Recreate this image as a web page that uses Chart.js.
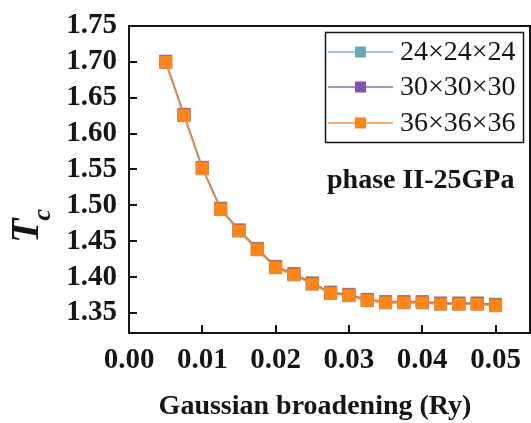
<!DOCTYPE html>
<html>
<head>
<meta charset="utf-8">
<script src="https://cdn.jsdelivr.net/npm/chart.js@4.4.1/dist/chart.umd.min.js"></script>
<style>
  html, body { margin: 0; padding: 0; background: #fff; }
  canvas { display: block; }
</style>
</head>
<body>
<canvas id="tcChart" width="531" height="423"></canvas>
<script>
// --- data ---
const broadening = [0.005, 0.0075, 0.01, 0.0125, 0.015, 0.0175, 0.02, 0.0225, 0.025, 0.0275,
                    0.03, 0.0325, 0.035, 0.0375, 0.04, 0.0425, 0.045, 0.0475, 0.05];
const tc24 = [1.701, 1.627, 1.553, 1.496, 1.466, 1.440, 1.415, 1.405, 1.392, 1.379,
              1.376, 1.369, 1.366, 1.366, 1.366, 1.364, 1.364, 1.364, 1.362];
const tc30 = [1.700, 1.626, 1.552, 1.495, 1.465, 1.439, 1.414, 1.404, 1.391, 1.378,
              1.375, 1.368, 1.365, 1.365, 1.365, 1.363, 1.363, 1.363, 1.361];
const tc36 = [1.699, 1.625, 1.551, 1.494, 1.464, 1.438, 1.413, 1.403, 1.390, 1.377,
              1.374, 1.367, 1.364, 1.364, 1.364, 1.362, 1.362, 1.362, 1.360];
const seriesLabels = ['24×24×24', '30×30×30', '36×36×36'];
const xTicks = [0.00, 0.01, 0.02, 0.03, 0.04, 0.05];
const yTicks = [1.35, 1.40, 1.45, 1.50, 1.55, 1.60, 1.65, 1.70, 1.75];

const SERIF = '"Liberation Serif", "Times New Roman", serif';
const INK = '#151515';

function pts(ys) {
  return broadening.map((x, i) => ({ x: x, y: ys[i] }));
}

function series(label, ys, line, fill, order) {
  return {
    label: label,
    data: pts(ys),
    borderColor: line,
    backgroundColor: fill,
    borderWidth: 1.6,
    pointStyle: 'rect',
    pointRadius: 9.2,
    pointBorderWidth: 0,
    pointBackgroundColor: fill,
    tension: 0,
    order: order
  };
}

// frame, inward ticks, axis titles, in-plot legend and annotation
const decorations = {
  id: 'decorations',
  afterDraw(chart) {
    const ctx = chart.ctx;
    const a = chart.chartArea;
    const xs = chart.scales.x, ys = chart.scales.y;
    ctx.save();

    // box
    ctx.strokeStyle = INK;
    ctx.lineWidth = 2;
    ctx.strokeRect(a.left, a.top, a.right - a.left, a.bottom - a.top);

    // inward tick marks
    ctx.beginPath();
    xTicks.forEach(v => {
      const px = Math.round(xs.getPixelForValue(v));
      if (px <= a.left + 1) return;
      ctx.moveTo(px, a.bottom);
      ctx.lineTo(px, a.bottom - 8);
    });
    yTicks.forEach(v => {
      const py = Math.round(ys.getPixelForValue(v));
      if (py <= a.top + 1) return;
      ctx.moveTo(a.left, py);
      ctx.lineTo(a.left + 8, py);
    });
    ctx.stroke();

    // x title
    ctx.fillStyle = INK;
    ctx.font = 'bold 28px ' + SERIF;
    ctx.textAlign = 'center';
    ctx.textBaseline = 'middle';
    ctx.fillText('Gaussian broadening (Ry)', 315, 407);

    // y title T_c
    ctx.save();
    ctx.translate(38, 243);
    ctx.rotate(-Math.PI / 2);
    ctx.textAlign = 'left';
    ctx.textBaseline = 'alphabetic';
    ctx.font = 'italic bold 40px ' + SERIF;
    ctx.fillText('T', 0, 0);
    const wT = ctx.measureText('T').width;
    ctx.font = 'italic bold 26px ' + SERIF;
    ctx.fillText('c', wT - 2, 12);
    ctx.restore();

    // legend box
    ctx.lineWidth = 1.5;
    ctx.strokeStyle = INK;
    ctx.strokeRect(325.5, 32.5, 198, 110);
    const rows = [52, 87, 123];
    chart.data.datasets.forEach((ds, i) => {
      const y = rows[i];
      ctx.strokeStyle = ds.borderColor;
      ctx.lineWidth = 1.6;
      ctx.beginPath();
      ctx.moveTo(328, y);
      ctx.lineTo(393, y);
      ctx.stroke();
      ctx.fillStyle = ds.backgroundColor;
      ctx.fillRect(355, y - 5.5, 11, 11);
      ctx.fillStyle = INK;
      ctx.font = '28px ' + SERIF;
      ctx.textAlign = 'left';
      ctx.textBaseline = 'middle';
      ctx.fillText(ds.label, 400, y + 1);
    });

    // annotation
    ctx.font = 'bold 28px ' + SERIF;
    ctx.textAlign = 'left';
    ctx.textBaseline = 'alphabetic';
    ctx.fillStyle = INK;
    ctx.fillText('phase II-25GPa', 327, 188);

    ctx.restore();
  }
};

document.addEventListener('DOMContentLoaded', function() {
  const ctx = document.getElementById('tcChart');
  new Chart(ctx.getContext('2d'), {
    type: 'line',
    data: {
      datasets: [
        series(seriesLabels[0], tc24, '#7fbac1', '#6aa9b1', 2),
        series(seriesLabels[1], tc30, '#8a68b8', '#7b55ae', 1),
        series(seriesLabels[2], tc36, '#f2913a', '#ff8516', 0)
      ]
    },
    options: {
      responsive: false,
      devicePixelRatio: 1,
      animation: false,
      layout: { autoPadding: false, padding: { top: 26, right: 1, left: 0, bottom: 0 } },
      plugins: { legend: { display: false }, tooltip: { enabled: false } },
      scales: {
        x: {
          type: 'linear',
          min: 0,
          max: 0.0547,
          grid: { display: false, drawTicks: false },
          border: { display: false },
          afterBuildTicks: s => { s.ticks = xTicks.map(v => ({ value: v })); },
          afterFit: s => { s.height = 90; s.paddingLeft = 0; s.paddingRight = 0; },
          ticks: {
            padding: 10,
            color: INK,
            font: { family: SERIF, size: 29, weight: 'bold' },
            maxRotation: 0,
            callback: v => Number(v).toFixed(2)
          }
        },
        y: {
          type: 'linear',
          min: 1.322,
          max: 1.75,
          grid: { display: false, drawTicks: false },
          border: { display: false },
          afterBuildTicks: s => { s.ticks = yTicks.map(v => ({ value: v })); },
          afterFit: s => { s.width = 129; s.paddingTop = 0; s.paddingBottom = 0; },
          ticks: {
            padding: 12,
            color: INK,
            font: { family: SERIF, size: 29, weight: 'bold' },
            callback: v => Number(v).toFixed(2)
          }
        }
      }
    },
    plugins: [decorations]
  });
});
</script>
</body>
</html>
